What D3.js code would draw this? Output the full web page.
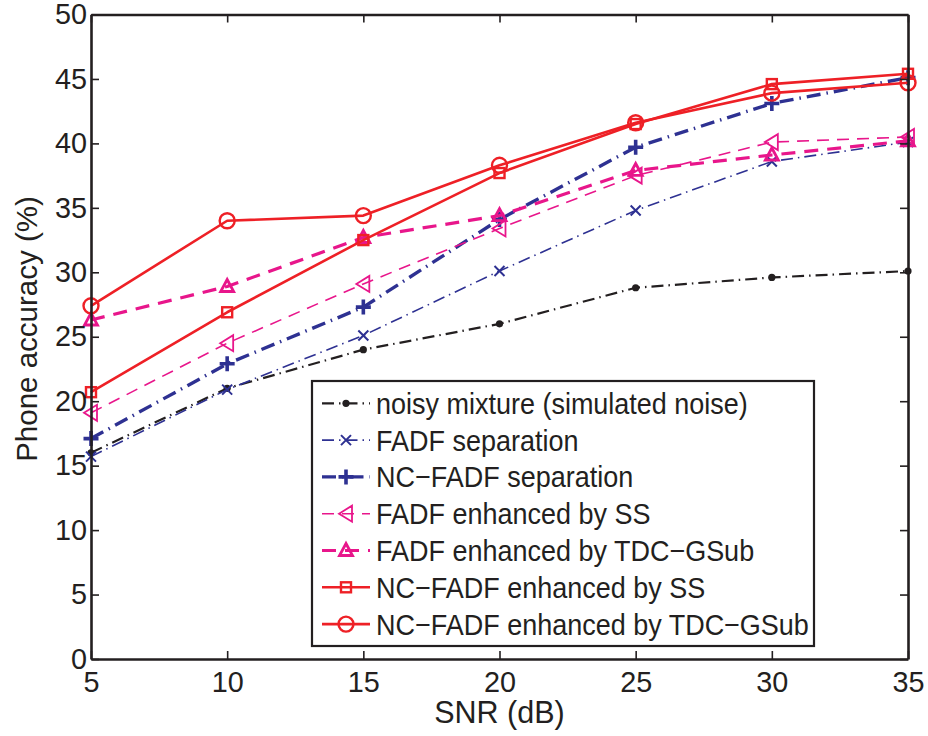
<!DOCTYPE html>
<html>
<head>
<meta charset="utf-8">
<script src="https://cdn.jsdelivr.net/npm/d3@7"></script>
<style>
  body { margin: 0; background: #fff; }
  svg text { font-family: "Liberation Sans", Arial, Helvetica, sans-serif; fill: #231f20; }
</style>
</head>
<body>
<svg id="chart" width="928" height="736"></svg>
<script>
// SNR levels (dB) on the x axis
const snr = [5, 10, 15, 20, 25, 30, 35];

// Phone accuracy (%) per method
const noisyMixture      = [16.0, 21.0, 24.0, 26.0, 28.8, 29.6, 30.1];
const fadfSeparation    = [15.7, 20.9, 25.1, 30.1, 34.8, 38.6, 40.1];
const ncFadfSeparation  = [17.1, 22.9, 27.3, 34.1, 39.7, 43.1, 45.1];
const fadfSS            = [19.1, 24.5, 29.1, 33.4, 37.5, 40.1, 40.5];
const fadfTDC           = [26.3, 28.9, 32.7, 34.4, 37.9, 39.1, 40.2];
const ncFadfSS          = [20.7, 26.9, 32.5, 37.7, 41.5, 44.6, 45.4];
const ncFadfTDC         = [27.4, 34.0, 34.4, 38.3, 41.6, 43.9, 44.7];

const seriesNames = [
  "noisy mixture (simulated noise)",
  "FADF separation",
  "NC\u2212FADF separation",
  "FADF enhanced by SS",
  "FADF enhanced by TDC\u2212GSub",
  "NC\u2212FADF enhanced by SS",
  "NC\u2212FADF enhanced by TDC\u2212GSub"
];
const seriesValues = [noisyMixture, fadfSeparation, ncFadfSeparation, fadfSS, fadfTDC, ncFadfSS, ncFadfTDC];

const xTicks = [5, 10, 15, 20, 25, 30, 35];
const yTicks = [0, 5, 10, 15, 20, 25, 30, 35, 40, 45, 50];

// Visual styling for each series
const BLACK = "#231f20", BLUE = "#2e3192", MAGENTA = "#e8168b", RED = "#ee2026";
const styles = [
  { color: BLACK,   width: 2.2, dash: "12,5,1.5,5", marker: "dot" },
  { color: BLUE,    width: 1.6, dash: "12,5,1.5,5", marker: "x" },
  { color: BLUE,    width: 3.4, dash: "14,6,1.5,6", marker: "plus" },
  { color: MAGENTA, width: 1.6, dash: "12,8",       marker: "ltri" },
  { color: MAGENTA, width: 3.2, dash: "14,9",       marker: "utri" },
  { color: RED,     width: 2.6, dash: null,         marker: "square" },
  { color: RED,     width: 2.6, dash: null,         marker: "circle" }
];

const svg = d3.select("#chart");
const margin = { left: 91, right: 20, top: 14.5, bottom: 77 };
const W = 928, H = 736;
const x = d3.scaleLinear().domain([5, 35]).range([margin.left, W - margin.right]);
const y = d3.scaleLinear().domain([0, 50]).range([H - margin.bottom, margin.top]);

const plot = svg.append("g");

// Axes with inward ticks (box style)
const tickLen = 8;
const tickFont = 28.8;
const axisStyle = g => {
  g.selectAll(".domain").attr("stroke", BLACK).attr("stroke-width", 2.6);
  g.selectAll(".tick line").attr("stroke", BLACK).attr("stroke-width", 1.6);
  g.selectAll("text").attr("font-size", tickFont).style("font-family", '"Liberation Sans", Arial, sans-serif').attr("fill", BLACK);
};

svg.append("g")
  .attr("transform", `translate(0,${y(0)})`)
  .call(d3.axisBottom(x).tickValues(xTicks).tickFormat(d3.format("d")).tickSizeInner(-tickLen).tickSizeOuter(0).tickPadding(12.5))
  .call(axisStyle);
svg.append("g")
  .attr("transform", `translate(0,${y(50)})`)
  .call(d3.axisTop(x).tickValues(xTicks).tickFormat("").tickSizeInner(-tickLen).tickSizeOuter(0))
  .call(axisStyle);
svg.append("g")
  .attr("transform", `translate(${x(5)},0)`)
  .call(d3.axisLeft(y).tickValues(yTicks).tickFormat(d3.format("d")).tickSizeInner(-tickLen).tickSizeOuter(0).tickPadding(4))
  .call(axisStyle);
svg.append("g")
  .attr("transform", `translate(${x(35)},0)`)
  .call(d3.axisRight(y).tickValues(yTicks).tickFormat("").tickSizeInner(-tickLen).tickSizeOuter(0))
  .call(axisStyle);

// Marker drawing
function drawMarker(g, type, cx, cy, color) {
  const m = g.append("g").attr("transform", `translate(${cx},${cy})`);
  switch (type) {
    case "dot":
      m.append("circle").attr("r", 3.6).attr("fill", color);
      break;
    case "x":
      m.append("path").attr("d", "M-5,-5L5,5M-5,5L5,-5").attr("stroke", color).attr("stroke-width", 2).attr("fill", "none");
      break;
    case "plus":
      m.append("path").attr("d", "M-7.5,0H7.5M0,-7.5V7.5").attr("stroke", color).attr("stroke-width", 3.6).attr("fill", "none");
      break;
    case "ltri":
      m.append("path").attr("d", "M-7,0L6,-8L6,8Z").attr("stroke", color).attr("stroke-width", 1.8).attr("fill", "none");
      break;
    case "utri":
      m.append("path").attr("d", "M0,-7L6.5,5L-6.5,5Z").attr("stroke", color).attr("stroke-width", 2.8).attr("fill", "none");
      break;
    case "square":
      m.append("rect").attr("x", -5).attr("y", -5).attr("width", 10).attr("height", 10).attr("stroke", color).attr("stroke-width", 2.4).attr("fill", "none");
      break;
    case "circle":
      m.append("circle").attr("r", 7.5).attr("stroke", color).attr("stroke-width", 2.4).attr("fill", "none");
      break;
  }
}

const line = d3.line().x((d, i) => x(snr[i])).y(d => y(d));

seriesValues.forEach((vals, k) => {
  const s = styles[k];
  const g = plot.append("g");
  g.append("path").datum(vals)
    .attr("d", line)
    .attr("fill", "none")
    .attr("stroke", s.color)
    .attr("stroke-width", s.width)
    .attr("stroke-dasharray", s.dash)
    .attr("stroke-linejoin", "round");
  vals.forEach((v, i) => drawMarker(g, s.marker, x(snr[i]), y(v), s.color));
});

// Legend
const lg = svg.append("g");
const lgX = 312, lgY = 381, lgW = 502, lgH = 265;
lg.append("rect").attr("x", lgX).attr("y", lgY).attr("width", lgW).attr("height", lgH)
  .attr("fill", "#fff").attr("stroke", BLACK).attr("stroke-width", 2.2);
const rowH = 36.8, firstRow = 403.3;
seriesNames.forEach((name, k) => {
  const s = styles[k];
  const cy = firstRow + k * rowH;
  lg.append("line").attr("x1", lgX + 10).attr("x2", lgX + 58).attr("y1", cy).attr("y2", cy)
    .attr("stroke", s.color).attr("stroke-width", s.width).attr("stroke-dasharray", s.dash);
  drawMarker(lg, s.marker, lgX + 34, cy, s.color);
  lg.append("text")
    .attr("transform", `translate(${lgX + 64},${cy + 10.5}) scale(0.9,1)`)
    .attr("font-size", 30).text(name);
});

// Axis titles
svg.append("text").attr("x", x(20)).attr("y", 723).attr("text-anchor", "middle")
  .attr("font-size", 30.5).text("SNR (dB)");
svg.append("text").attr("transform", `translate(37,329) rotate(-90)`).attr("text-anchor", "middle")
  .attr("font-size", 29.5)
  .text("Phone accuracy (%)");
</script>
</body>
</html>
